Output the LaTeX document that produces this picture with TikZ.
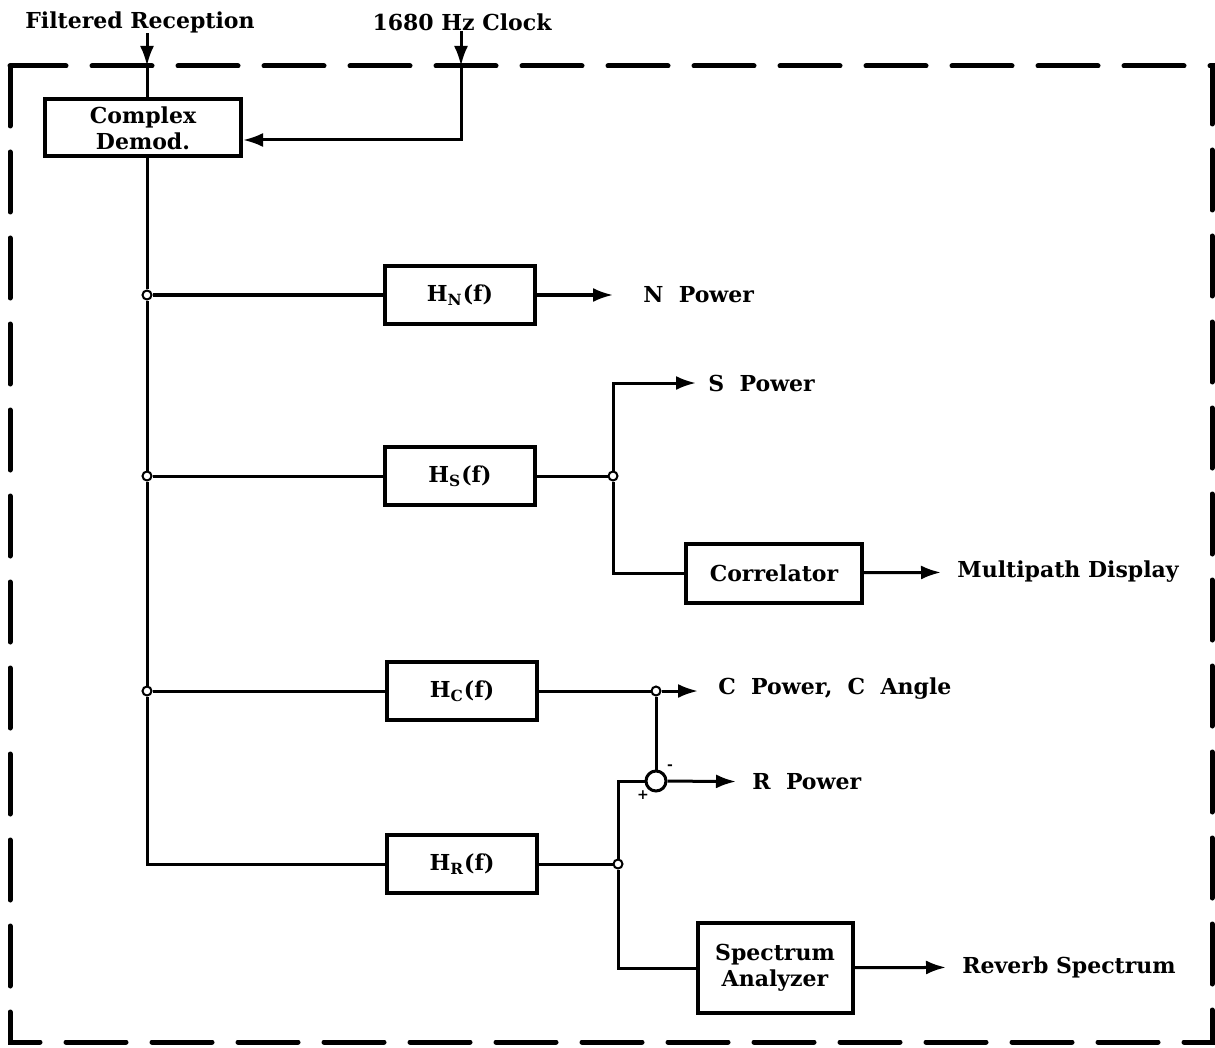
\documentclass[tikz,border=0pt]{standalone}
\usepackage{fontspec}
\setmainfont{DejaVu Serif}
\usetikzlibrary{arrows.meta, positioning}

\begin{document}
\begin{tikzpicture}[x=0.5pt, y=-0.5pt,
    txt/.style={font=\fontsize{11}{13}\selectfont\bfseries},
    block/.style={txt, draw, line width=2pt, minimum width=75pt, minimum height=29pt, align=center, inner sep=2pt},
    lbl/.style={txt, inner sep=0pt, anchor=west},
    wire/.style={line width=1.5pt},
    sig/.style={wire, -{Latex[length=10pt, width=7pt]}},
    junc/.style={circle, draw, line width=1pt, fill=white, inner sep=0pt, minimum size=4.5pt},
    frame/.style={line width=2.5pt, dash pattern=on 30pt off 13pt, line cap=round}]

    \useasboundingbox (0,0) rectangle (1215,1048);

    % dashed enclosure
    \draw[frame] (10,66) rectangle (1212,1042);

    % inputs
    \node[txt, inner sep=0pt] (fr) at (140,22) {Filtered Reception};
    \node[txt, inner sep=0pt] (clk) at (462,22) {1680 Hz Clock};
    \coordinate (frin) at (147,66);
    \coordinate (clkin) at (461,66);

    % blocks
    \node[block, minimum width=98pt, minimum height=28.5pt] (demod) at (143,128) {Complex\\Demod.};
    \node[block] (hn) at (460,295) {H\textsubscript{N}(f)};
    \node[block] (hs) at (460,476) {H\textsubscript{S}(f)};
    \node[block] (hc) at (462,691) {H\textsubscript{C}(f)};
    \node[block] (hr) at (462,864) {H\textsubscript{R}(f)};
    \node[block, minimum width=88pt, minimum height=29.5pt] (corr) at (774,573) {Correlator};
    \node[block, minimum width=77.5pt, minimum height=45pt] (spec) at (775,968) {Spectrum\\Analyzer};

    % junctions
    \node[junc] (jN) at (147,295) {};
    \node[junc] (jS) at (147,476) {};
    \node[junc] (jC) at (147,691) {};
    \coordinate (busend) at (147,864);
    \node[junc] (jS2) at (613,476) {};
    \node[junc] (jC2) at (656,691) {};
    \node[junc] (jR) at (618,864) {};
    \node[circle, draw, line width=1.5pt, fill=white, minimum size=10pt, inner sep=0pt] (sum) at (656,781) {};
    \node[font=\bfseries\scriptsize, inner sep=0pt] (minus) at (670,767) {-};
    \node[font=\bfseries\scriptsize, inner sep=0pt] (plus) at (643,795) {+};

    % outputs
    \node[lbl] (npow) at (643,295) {N\ \ Power};
    \node[lbl] (spow) at (708,383) {S\ \ Power};
    \node[lbl] (mpd) at (957,572) {Multipath Display};
    \node[lbl] (cpow) at (718,689) {C\ \ Power,\ \ C\ \ Angle};
    \node[lbl] (rpow) at (752,782) {R\ \ Power};
    \node[lbl] (rev) at (962,967) {Reverb Spectrum};

    % input connections
    \draw[sig] (fr.south -| frin) -- (frin);
    \draw[wire] (frin) -- (frin |- demod.north);
    \draw[sig] (clk.south -| clkin) -- (clkin);
    \draw[sig] (clkin) |- ([yshift=-6pt]demod.east);

    % main bus
    \draw[wire] (jN |- demod.south) -- (jN);
    \draw[wire] (jN) -- (jS);
    \draw[wire] (jS) -- (jC);
    \draw[wire] (jC) -- (busend) -- (hr);

    % N branch
    \draw[wire] (jN) -- (hn);
    \draw[sig, shorten >=15pt] (hn) -- (npow);

    % S branch
    \draw[wire] (jS) -- (hs);
    \draw[wire] (hs) -- (jS2);
    \draw[sig, shorten >=6pt] (jS2) |- (spow.west);
    \draw[wire] (jS2) |- (corr);
    \draw[sig, shorten >=8pt] (corr) -- (mpd);

    % C branch
    \draw[wire] (jC) -- (hc);
    \draw[wire] (hc) -- (jC2);
    \draw[sig, shorten >=10pt] (jC2) -- (cpow.west |- jC2);
    \draw[wire] (jC2) -- (sum);

    % R branch
    \draw[wire] (hr) -- (jR);
    \draw[wire] (jR) |- (sum.west);
    \draw[sig, shorten >=8pt] (sum) -- (rpow);
    \draw[wire] (jR) |- (spec);
    \draw[sig, shorten >=8pt] (spec) -- (rev);

\end{tikzpicture}
\end{document}
